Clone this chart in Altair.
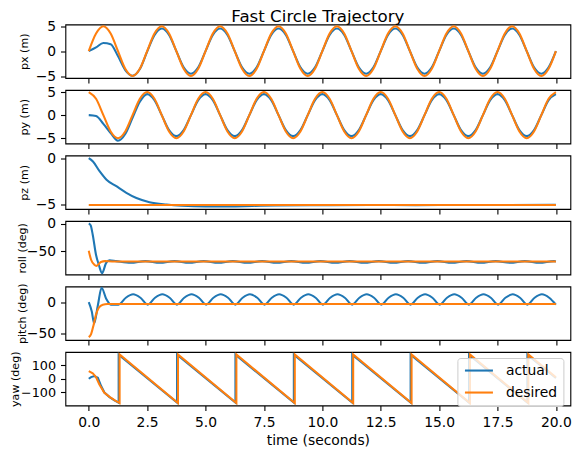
import altair as alt
import pandas as pd

BLUE = "#1f77b4"
ORANGE = "#ff7f0e"
FONT = "DejaVu Sans"

XTICKS = [0, 2.5, 5, 7.5, 10, 12.5, 15, 17.5, 20]

# ---------------- px / py (shared time grid, seconds) ----------------
t_xy = [0.0, 0.3125, 0.625, 0.9375, 1.25, 1.5625, 1.875, 2.1875,
        2.5, 2.8125, 3.125, 3.4375, 3.75, 4.0625, 4.375, 4.6875,
        5.0, 5.3125, 5.625, 5.9375, 6.25, 6.5625, 6.875, 7.1875,
        7.5, 7.8125, 8.125, 8.4375, 8.75, 9.0625, 9.375, 9.6875,
        10.0, 10.3125, 10.625, 10.9375, 11.25, 11.5625, 11.875, 12.1875,
        12.5, 12.8125, 13.125, 13.4375, 13.75, 14.0625, 14.375, 14.6875,
        15.0, 15.3125, 15.625, 15.9375, 16.25, 16.5625, 16.875, 17.1875,
        17.5, 17.8125, 18.125, 18.4375, 18.75, 19.0625, 19.375, 19.6875,
        20.0]

px_desired = [0, 3.54, 5, 3.54, 0, -3.54, -5, -3.54,
              0, 3.54, 5, 3.54, 0, -3.54, -5, -3.54,
              0, 3.54, 5, 3.54, 0, -3.54, -5, -3.54,
              0, 3.54, 5, 3.54, 0, -3.54, -5, -3.54,
              0, 3.54, 5, 3.54, 0, -3.54, -5, -3.54,
              0, 3.54, 5, 3.54, 0, -3.54, -5, -3.54,
              0, 3.54, 5, 3.54, 0, -3.54, -5, -3.54,
              0, 3.54, 5, 3.54, 0, -3.54, -5, -3.54,
              0]
px_actual = [0, 0.75, 1.65, 1.4, -1.0, -3.8, -4.95, -3.6,
             -0.1, 3.2, 4.55, 3.25, 0, -3.25, -4.55, -3.25,
             0, 3.25, 4.55, 3.25, 0, -3.25, -4.55, -3.25,
             0, 3.25, 4.55, 3.25, 0, -3.25, -4.55, -3.25,
             0, 3.25, 4.55, 3.25, 0, -3.25, -4.55, -3.25,
             0, 3.25, 4.55, 3.25, 0, -3.25, -4.55, -3.25,
             0, 3.25, 4.55, 3.25, 0, -3.25, -4.55, -3.25,
             0, 3.25, 4.55, 3.25, 0, -3.25, -4.55, -3.25,
             0]
py_desired = [5, 3.54, 0, -3.54, -5, -3.54, 0, 3.54,
              5, 3.54, 0, -3.54, -5, -3.54, 0, 3.54,
              5, 3.54, 0, -3.54, -5, -3.54, 0, 3.54,
              5, 3.54, 0, -3.54, -5, -3.54, 0, 3.54,
              5, 3.54, 0, -3.54, -5, -3.54, 0, 3.54,
              5, 3.54, 0, -3.54, -5, -3.54, 0, 3.54,
              5, 3.54, 0, -3.54, -5, -3.54, 0, 3.54,
              5, 3.54, 0, -3.54, -5, -3.54, 0, 3.54,
              5]
py_actual = [0, -0.2, -1.9, -3.9, -5.55, -4.1, -0.6, 2.9,
             4.55, 3.25, 0, -3.25, -4.55, -3.25, 0, 3.25,
             4.55, 3.25, 0, -3.25, -4.55, -3.25, 0, 3.25,
             4.55, 3.25, 0, -3.25, -4.55, -3.25, 0, 3.25,
             4.55, 3.25, 0, -3.25, -4.55, -3.25, 0, 3.25,
             4.55, 3.25, 0, -3.25, -4.55, -3.25, 0, 3.25,
             4.55, 3.25, 0, -3.25, -4.55, -3.25, 0, 3.25,
             4.55, 3.25, 0, -3.25, -4.55, -3.25, 0, 3.25,
             4.55]

# ---------------- pz ----------------
pz_t_actual = [0, 0.18, 0.47, 0.76, 1.18, 1.61, 2.04, 2.6, 3.33, 4.0, 5.0,
               6.0, 7.0, 8.0, 10.0, 12.0, 14.0, 16.0, 18.0, 20.0]
pz_actual = [0, -0.36, -1.42, -2.3, -3.0, -3.7, -4.26, -4.7, -4.95, -5.08, -5.15,
             -5.15, -5.1, -5.05, -5.02, -5.0, -5.02, -5.0, -5.0, -4.98]
pz_t_desired = [0, 20.0]
pz_desired = [-5, -5]

# ---------------- roll ----------------
roll_t_actual = [0, 0.08, 0.17, 0.31, 0.43, 0.57, 0.74, 0.89,
                 1.17, 1.795, 2.42, 3.045, 3.67, 4.295, 4.92, 5.545,
                 6.17, 6.795, 7.42, 8.045, 8.67, 9.295, 9.92, 10.545,
                 11.17, 11.795, 12.42, 13.045, 13.67, 14.295, 14.92, 15.545,
                 16.17, 16.795, 17.42, 18.045, 18.67, 19.295, 19.92, 20.0]
roll_actual = [0, -3, -20, -56, -74, -89, -71, -66,
               -67.5, -70.5, -67.5, -70.5, -67.5, -70.5, -67.5, -70.5,
               -67.5, -70.5, -67.5, -70.5, -67.5, -70.5, -67.5, -70.5,
               -67.5, -70.5, -67.5, -70.5, -67.5, -70.5, -67.5, -70.5,
               -67.5, -70.5, -67.5, -70.5, -67.5, -70.5, -67.5, -68]
roll_t_desired = [0, 0.1, 0.24, 0.33, 0.52, 0.7, 1.0, 20.0]
roll_desired = [-49, -65, -74, -76, -69, -67.5, -68, -68]

# ---------------- pitch ----------------
pitch_t_actual = [0, 0.13, 0.23, 0.39, 0.55, 0.74, 0.96,
                  1.275, 1.5875, 1.9, 2.2125, 2.525, 2.8375, 3.15, 3.4625,
                  3.775, 4.0875, 4.4, 4.7125, 5.025, 5.3375, 5.65, 5.9625,
                  6.275, 6.5875, 6.9, 7.2125, 7.525, 7.8375, 8.15, 8.4625,
                  8.775, 9.0875, 9.4, 9.7125, 10.025, 10.3375, 10.65, 10.9625,
                  11.275, 11.5875, 11.9, 12.2125, 12.525, 12.8375, 13.15, 13.4625,
                  13.775, 14.0875, 14.4, 14.7125, 15.025, 15.3375, 15.65, 15.9625,
                  16.275, 16.5875, 16.9, 17.2125, 17.525, 17.8375, 18.15, 18.4625,
                  18.775, 19.0875, 19.4, 19.7125, 20.0]
pitch_actual = [0, -15, -34, -5, 23, 6, -4,
                -4, 7, 12.5, 7, -4, 7, 12.5, 7,
                -4, 7, 12.5, 7, -4, 7, 12.5, 7,
                -4, 7, 12.5, 7, -4, 7, 12.5, 7,
                -4, 7, 12.5, 7, -4, 7, 12.5, 7,
                -4, 7, 12.5, 7, -4, 7, 12.5, 7,
                -4, 7, 12.5, 7, -4, 7, 12.5, 7,
                -4, 7, 12.5, 7, -4, 7, 12.5, 7,
                -4, 7, 12.5, 7, -4]
pitch_t_desired = [0, 0.1, 0.21, 0.31, 0.43, 0.6, 0.8, 1.2, 20.0]
pitch_desired = [-56, -51, -36, -20, -9, -4, -3, -3, -3]

# ---------------- yaw ----------------
yaw_t_actual = [0, 0.1, 0.24, 0.39, 0.53, 0.67, 0.89, 1.1,
                1.28, 1.28, 3.78, 3.78, 6.28, 6.28, 8.78, 8.78,
                11.28, 11.28, 13.78, 13.78, 16.28, 16.28, 18.78, 18.78, 20.0]
yaw_actual = [0, 12, 20, 7, -54, -102, -136, -160,
              -177, 178, -177, 178, -177, 178, -177, 178,
              -177, 178, -177, 178, -177, 178, -177, 178, 6]
yaw_t_desired = [0, 0.17, 0.31, 0.45, 0.66, 0.89, 1.1,
                 1.32, 1.32, 3.82, 3.82, 6.32, 6.32, 8.82, 8.82,
                 11.32, 11.32, 13.82, 13.82, 16.32, 16.32, 18.82, 18.82, 20.0]
yaw_desired = [56, 41, 12, -41, -102, -134, -158,
               -180, 180, -180, 180, -180, 180, -180, 180,
               -180, 180, -180, 180, -180, 180, -180, 180, 10]

W, H = 505, 53.5
XDOM = [-1, 20.62]


def frame(ta, va, td, vd):
    rows = []
    for i, (t, v) in enumerate(zip(ta, va)):
        rows.append({"t": t, "v": v, "series": "actual", "i": i})
    for i, (t, v) in enumerate(zip(td, vd)):
        rows.append({"t": t, "v": v, "series": "desired", "i": i})
    return pd.DataFrame(rows)


def panel(df, ylabel, ydom, yticks, title_x, interp="monotone",
          bottom=False, legend=None, title=None, ylabel_size=13.9):
    color = alt.Color("series:N",
                      scale=alt.Scale(domain=["actual", "desired"], range=[BLUE, ORANGE]),
                      legend=legend)
    if bottom:
        xaxis = alt.Axis(values=XTICKS, format=".1f", title="time (seconds)")
    else:
        xaxis = alt.Axis(values=XTICKS, format=".1f", labels=False, title=None)
    yaxis = alt.Axis(values=yticks, format="d", title=ylabel, titleX=title_x,
                     labelFontSize=ylabel_size)
    base = alt.Chart(df).mark_line(strokeWidth=2.08, interpolate=interp).encode(
        x=alt.X("t:Q", scale=alt.Scale(domain=XDOM, nice=False, zero=False), axis=xaxis),
        y=alt.Y("v:Q", scale=alt.Scale(domain=ydom, nice=False, zero=False), axis=yaxis),
        color=color,
        order=alt.Order("i:Q"),
    )
    ch = alt.layer(
        base.transform_filter("datum.series == 'actual'"),
        base.transform_filter("datum.series == 'desired'"),
    ).properties(width=W, height=H)
    if title is not None:
        ch = ch.properties(title=title)
    return ch


title = alt.TitleParams("Fast Circle Trajectory", fontSize=16.67, font=FONT,
                        fontWeight="normal", color="black", anchor="middle",
                        frame="group", offset=-6)

legend = alt.Legend(title=None, orient="none", legendX=392, legendY=6,
                    fillColor="rgba(255,255,255,0.8)", strokeColor="#cccccc",
                    cornerRadius=3, padding=5.6, labelFont=FONT, labelFontSize=13.9,
                    labelColor="black", symbolType="M-1,0H4.6", symbolSize=100,
                    symbolStrokeWidth=2.08, labelOffset=29, rowPadding=7)

p1 = panel(frame(t_xy, px_actual, t_xy, px_desired), "px (m)", [-5.4, 5.35], [-5, 0, 5], -36.2, title=title)
p2 = panel(frame(t_xy, py_actual, t_xy, py_desired), "py (m)", [-6.15, 5.45], [-5, 0, 5], -36.2)
p3 = panel(frame(pz_t_actual, pz_actual, pz_t_desired, pz_desired), "pz (m)", [-5.43, 0.28], [-5, 0], -36.2)
p4 = panel(frame(roll_t_actual, roll_actual, roll_t_desired, roll_desired), "roll (deg)", [-91.5, 4.6], [-50, 0], -37.9)
p5 = panel(frame(pitch_t_actual, pitch_actual, pitch_t_desired, pitch_desired), "pitch (deg)", [-60.5, 25], [-50, 0], -37.9)
p6 = panel(frame(yaw_t_actual, yaw_actual, yaw_t_desired, yaw_desired), "yaw (deg)", [-198, 198], [-100, 0, 100], -44.5,
           interp="linear", bottom=True, legend=legend, ylabel_size=12.8)

chart = alt.vconcat(p1, p2, p3, p4, p5, p6, spacing=11.5, bounds="flush").resolve_scale(
    x="independent", y="independent", color="independent"
).properties(
    padding={"left": 0.4, "top": -0.5, "right": 0, "bottom": 0}
).configure_axis(
    labelFont=FONT, labelFontSize=13.9, labelColor="black", labelPadding=4.9,
    tickColor="black", tickWidth=1.1, tickSize=4.9, grid=False, domain=False,
    titleFont=FONT, titleFontSize=11.1, titleFontWeight="normal", titleColor="black",
    labelFlush=False, labelOverlap=False,
).configure_axisX(
    titleFontSize=13.9, titlePadding=4.5,
).configure_view(
    stroke="black", strokeWidth=1.1,
)

chart.save("out.html", embed_options={"renderer": "svg", "actions": False})
